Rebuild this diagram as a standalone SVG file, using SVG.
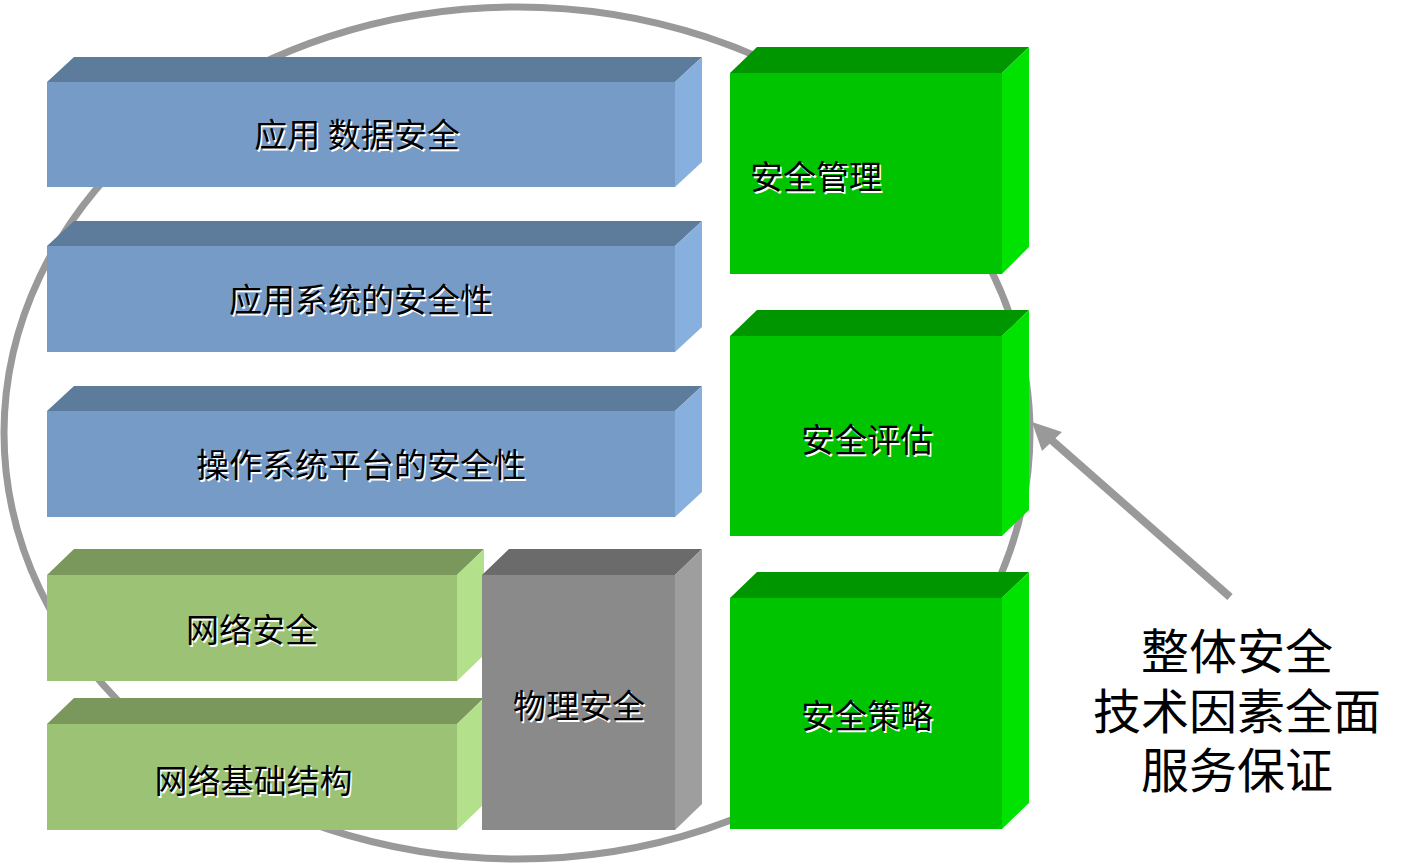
<svg xmlns="http://www.w3.org/2000/svg" width="1417" height="865" viewBox="0 0 1417 865">
<style>
.t{font-family:"Noto Sans CJK SC","Noto Sans",sans-serif;font-size:33px;text-anchor:middle}
.sh{fill:#ffffff}
.tx{fill:#000000}
.big{font-family:"Liberation Sans","Noto Sans CJK SC",sans-serif;font-size:48px;text-anchor:middle;fill:#000000}
.bf{fill:#759BC6}.bt{fill:#5D7B9A}.bs{fill:#87B0DE}
.gf{fill:#9CC375}.gt{fill:#7A985C}.gs{fill:#B3E08A}
.yf{fill:#8A8A8A}.yt{fill:#6B6B6B}.ys{fill:#9E9E9E}
.cf{fill:#00C400}.ct{fill:#009600}.cs{fill:#00E300}
</style>
<rect width="1417" height="865" fill="#ffffff"/>
<ellipse cx="517" cy="433" rx="513" ry="426" fill="none" stroke="#999999" stroke-width="7"/>

<g id="box-app-data">
<polygon class="bt" points="47,82 74,57 702,57 675,82"/>
<polygon class="bs" points="675,82 702,57 702,162 675,187"/>
<rect class="bf" x="47" y="82" width="628" height="105"/>
<text class="t sh" x="358.5" y="148.5" xml:space="preserve">应用 数据安全</text>
<text class="t tx" x="357" y="147" xml:space="preserve">应用 数据安全</text>
</g>

<g id="box-app-sys">
<polygon class="bt" points="47,246 74,221 702,221 675,246"/>
<polygon class="bs" points="675,246 702,221 702,327 675,352"/>
<rect class="bf" x="47" y="246" width="628" height="106"/>
<text class="t sh" x="362.5" y="313.5">应用系统的安全性</text>
<text class="t tx" x="361" y="312">应用系统的安全性</text>
</g>

<g id="box-os">
<polygon class="bt" points="47,411 74,386 702,386 675,411"/>
<polygon class="bs" points="675,411 702,386 702,492 675,517"/>
<rect class="bf" x="47" y="411" width="628" height="106"/>
<text class="t sh" x="362.5" y="478.5">操作系统平台的安全性</text>
<text class="t tx" x="361" y="477">操作系统平台的安全性</text>
</g>

<g id="box-net-sec">
<polygon class="gt" points="47,575 74,549 484,549 457,575"/>
<polygon class="gs" points="457,575 484,549 484,655 457,681"/>
<rect class="gf" x="47" y="575" width="410" height="106"/>
<text class="t sh" x="253.5" y="643.5">网络安全</text>
<text class="t tx" x="252" y="642">网络安全</text>
</g>

<g id="box-net-infra">
<polygon class="gt" points="47,724 74,698 484,698 457,724"/>
<polygon class="gs" points="457,724 484,698 484,804 457,830"/>
<rect class="gf" x="47" y="724" width="410" height="106"/>
<text class="t sh" x="255" y="794.5">网络基础结构</text>
<text class="t tx" x="253.5" y="793">网络基础结构</text>
</g>

<g id="box-physical">
<polygon class="yt" points="482,575 509,549 702,549 675,575"/>
<polygon class="ys" points="675,575 702,549 702,804 675,830"/>
<rect class="yf" x="482" y="575" width="193" height="255"/>
<text class="t sh" x="580.5" y="719.5">物理安全</text>
<text class="t tx" x="579" y="718">物理安全</text>
</g>

<g id="box-mgmt">
<polygon class="ct" points="730,73 757,47 1029,47 1002,73"/>
<polygon class="cs" points="1002,73 1029,47 1029,247 1002,274"/>
<rect class="cf" x="730" y="73" width="272" height="201"/>
<text class="t sh" x="817.5" y="190.5">安全管理</text>
<text class="t tx" x="816" y="189">安全管理</text>
</g>

<g id="box-assess">
<polygon class="ct" points="730,336 757,310 1029,310 1002,336"/>
<polygon class="cs" points="1002,336 1029,310 1029,510 1002,536"/>
<rect class="cf" x="730" y="336" width="272" height="200"/>
<text class="t sh" x="868.5" y="453.5">安全评估</text>
<text class="t tx" x="867" y="452">安全评估</text>
</g>

<g id="box-policy">
<polygon class="ct" points="730,598 757,572 1029,572 1002,598"/>
<polygon class="cs" points="1002,598 1029,572 1029,803 1002,829"/>
<rect class="cf" x="730" y="598" width="272" height="231"/>
<text class="t sh" x="868.5" y="729.5">安全策略</text>
<text class="t tx" x="867" y="728">安全策略</text>
</g>

<g id="connectors">
<line x1="1230" y1="597" x2="1048" y2="437" stroke="#999999" stroke-width="8"/>
<polygon points="1032,422 1062,432 1042,451" fill="#999999"/>
</g>

<g id="label-summary">
<text class="big" x="1237" y="669">整体安全</text>
<text class="big" x="1237" y="729">技术因素全面</text>
<text class="big" x="1237" y="788">服务保证</text>
</g>
</svg>
